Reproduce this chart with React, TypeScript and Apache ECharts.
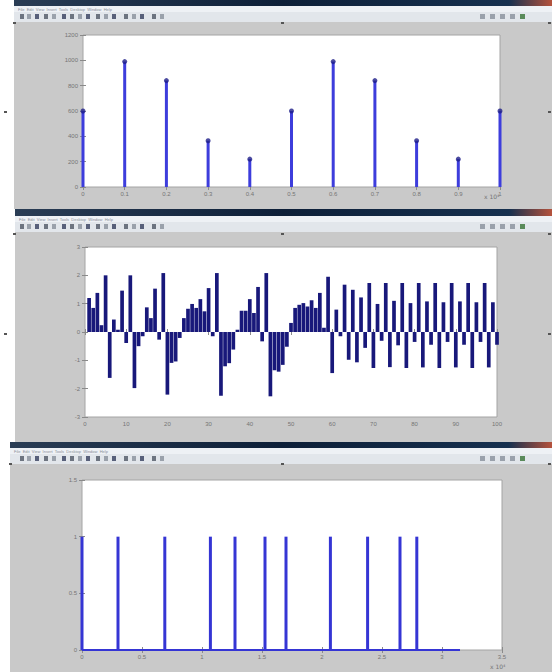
import React, { useEffect, useRef } from "react";
import * as echarts from "echarts";

// ---------- Panel 1 (stem plot) ----------
const p1X = [0, 1, 2, 3, 4, 5, 6, 7, 8, 9, 10];
const p1Values = [600, 990, 840, 365, 220, 600, 990, 840, 365, 220, 600];
const p1XLabels = ["0", "0.1", "0.2", "0.3", "0.4", "0.5", "0.6", "0.7", "0.8", "0.9", "1"];
const p1YLabels = ["0", "200", "400", "600", "800", "1000", "1200"];

// ---------- Panel 2 (bar plot, 100 samples) ----------
const p2Values = [
  1.2, 0.85, 1.38, 0.24, 2.0, -1.62, 0.44, 0.08, 1.46, -0.39,
  2.0, -1.98, -0.5, -0.15, 0.87, 0.49, 1.53, -0.27, 2.08, -2.21,
  -1.09, -1.04, -0.21, 0.49, 0.82, 0.99, 0.85, 1.16, 0.73, 1.55,
  -0.15, 2.08, -2.25, -1.21, -1.1, -0.62, 0.08, 0.75, 0.75, 1.16,
  0.67, 1.59, -0.33, 2.08, -2.27, -1.35, -1.4, -1.16, -0.52, 0.32,
  0.85, 0.96, 1.02, 0.9, 1.12, 0.85, 1.38, 0.15, 1.95, -1.45,
  0.79, -0.15, 1.67, -0.98, 1.49, -1.07, 1.22, -0.56, 1.73, -1.27,
  0.99, -0.31, 1.73, -1.24, 1.1, -0.47, 1.73, -1.27, 1.02, -0.35,
  1.73, -1.25, 1.08, -0.45, 1.73, -1.27, 1.05, -0.35, 1.73, -1.25,
  1.08, -0.45, 1.73, -1.27, 1.05, -0.35, 1.73, -1.25, 1.05, -0.45,
];
const p2XLabels = ["0", "10", "20", "30", "40", "50", "60", "70", "80", "90", "100"];
const p2YLabels = ["-3", "-2", "-1", "0", "1", "2", "3"];

// ---------- Panel 3 (impulse train) ----------
const p3X = [0, 3000, 6900, 10700, 12750, 15250, 17000, 20700, 23800, 26500, 27900];
const p3Values = [1, 1, 1, 1, 1, 1, 1, 1, 1, 1, 1];
const p3End = 31500;
const p3XLabels = ["0", "0.5", "1", "1.5", "2", "2.5", "3", "3.5"];
const p3YLabels = ["0", "0.5", "1", "1.5"];

const FONT = "Liberation Sans";
const LABEL_COLOR = "#757575";
const TICK_COLOR = "#8a8a8a";

function axis(
  kind: "x" | "y",
  gridIndex: number,
  min: number,
  max: number,
  interval: number,
  labels: string[],
  position: string,
  showLabel: boolean
) {
  return {
    type: "value",
    gridIndex,
    position,
    min,
    max,
    interval,
    axisLine: { show: false },
    axisTick: { show: true, inside: true, length: 3, lineStyle: { color: TICK_COLOR, width: 1 } },
    splitLine: { show: false },
    axisLabel: {
      show: showLabel,
      fontSize: 6,
      fontFamily: FONT,
      color: LABEL_COLOR,
      margin: kind === "x" ? 4 : 5,
      formatter: (v: number) => labels[Math.round((v - min) / interval)] ?? "",
    },
  };
}

function windowChrome(x: number, y: number, h: number, titleH: number) {
  const els: any[] = [];
  const w = 552 - x;
  els.push({ type: "rect", shape: { x, y, width: w, height: h }, style: { fill: "#c9c9c9" }, silent: true });
  els.push({
    type: "rect",
    shape: { x, y, width: w, height: titleH },
    style: {
      fill: new echarts.graphic.LinearGradient(0, 0, 1, 0, [
        { offset: 0, color: "#2a3d55" },
        { offset: 0.5, color: "#0d1f38" },
        { offset: 0.92, color: "#16304f" },
        { offset: 1, color: "#b5523c" },
      ]),
    },
    silent: true,
  });
  els.push({ type: "rect", shape: { x, y: y + titleH, width: w, height: 6 }, style: { fill: "#eef1f5" }, silent: true });
  els.push({
    type: "text",
    x: x + 4,
    y: y + titleH + 1,
    style: { text: "File  Edit  View  Insert  Tools  Desktop  Window  Help", fontSize: 4, fill: "#8a8f99", fontFamily: FONT },
    silent: true,
  });
  els.push({ type: "rect", shape: { x, y: y + titleH + 6, width: w, height: 10 }, style: { fill: "#e2e6eb" }, silent: true });
  const iconXs = [20, 27, 35, 44, 52, 62, 70, 78, 86, 96, 104, 112, 124, 132, 140, 152, 160];
  iconXs.forEach((ix, i) => {
    els.push({
      type: "rect",
      shape: { x: ix, y: y + titleH + 8, width: 4, height: 5 },
      style: { fill: i % 3 === 0 ? "#6d7480" : i % 3 === 1 ? "#9aa1ab" : "#58607a" },
      silent: true,
    });
  });
  [480, 490, 500, 510, 520].forEach((ix, i) => {
    els.push({
      type: "rect",
      shape: { x: ix, y: y + titleH + 8, width: 5, height: 5 },
      style: { fill: i === 4 ? "#5a8a5a" : "#9aa1ab" },
      silent: true,
    });
  });
  return els;
}

export default function App() {
  const ref = useRef<HTMLDivElement>(null);
  useEffect(() => {
    if (!ref.current) return;
    const chart = echarts.init(ref.current, null, { renderer: "svg" });

    const gridBoxes = [
      { left: 83, top: 35, width: 417, height: 152 },
      { left: 85, top: 247, width: 412, height: 170 },
      { left: 82, top: 480, width: 420, height: 170 },
    ];
    const grids = gridBoxes.map((g) => ({ ...g, show: false }));

    const xAxes = [
      axis("x", 0, 0, 10, 1, p1XLabels, "bottom", true),
      axis("x", 0, 0, 10, 1, p1XLabels, "top", false),
      axis("x", 1, 0, 100, 10, p2XLabels, "bottom", true),
      axis("x", 1, 0, 100, 10, p2XLabels, "top", false),
      axis("x", 2, 0, 35000, 5000, p3XLabels, "bottom", true),
      axis("x", 2, 0, 35000, 5000, p3XLabels, "top", false),
    ];
    const yAxes = [
      axis("y", 0, 0, 1200, 200, p1YLabels, "left", true),
      axis("y", 0, 0, 1200, 200, p1YLabels, "right", false),
      axis("y", 1, -3, 3, 1, p2YLabels, "left", true),
      axis("y", 1, -3, 3, 1, p2YLabels, "right", false),
      axis("y", 2, 0, 1.5, 0.5, p3YLabels, "left", true),
      axis("y", 2, 0, 1.5, 0.5, p3YLabels, "right", false),
    ];

    const graphics: any[] = [
      ...windowChrome(14, 0, 209, 6),
      ...windowChrome(15, 209, 233, 7),
      ...windowChrome(10, 442, 230, 6),
    ];
    // white plot areas with a thin box
    gridBoxes.forEach((g) => {
      graphics.push({
        type: "rect",
        shape: { x: g.left, y: g.top, width: g.width, height: g.height },
        style: { fill: "#ffffff", stroke: "#a4a4a4", lineWidth: 1 },
        silent: true,
      });
    });
    // resize handles
    [
      [13, 22], [281, 22], [548, 22], [4, 111], [548, 111],
      [13, 233], [281, 233], [548, 233], [4, 333], [548, 333],
      [9, 463], [281, 463], [548, 463],
    ].forEach(([hx, hy]) => {
      graphics.push({ type: "rect", shape: { x: hx, y: hy, width: 3, height: 2 }, style: { fill: "#555" }, silent: true });
    });
    graphics.push({
      type: "text",
      x: 484,
      y: 193,
      style: { text: "x 10⁴", fontSize: 6, fill: LABEL_COLOR, fontFamily: "DejaVu Sans" },
      silent: true,
    });
    graphics.push({
      type: "text",
      x: 490,
      y: 663,
      style: { text: "x 10⁴", fontSize: 6, fill: LABEL_COLOR, fontFamily: "DejaVu Sans" },
      silent: true,
    });
    graphics.forEach((g) => {
      g.z = -10;
    });

    chart.setOption({
      animation: false,
      backgroundColor: "#ffffff",
      grid: grids,
      xAxis: xAxes,
      yAxis: yAxes,
      graphic: { elements: graphics },
      series: [
        {
          type: "bar",
          xAxisIndex: 0,
          yAxisIndex: 0,
          barWidth: 3,
          clip: false,
          itemStyle: { color: "#3d3ddc" },
          data: p1X.map((x, i) => [x, p1Values[i]]),
          z: 3,
        },
        {
          type: "scatter",
          xAxisIndex: 0,
          yAxisIndex: 0,
          symbol: "circle",
          symbolSize: 5,
          clip: false,
          itemStyle: { color: "#1e1e88" },
          data: p1X.map((x, i) => [x, p1Values[i]]),
          z: 4,
        },
        {
          type: "bar",
          xAxisIndex: 2,
          yAxisIndex: 2,
          barWidth: 3.7,
          itemStyle: { color: "#18187a" },
          data: p2Values.map((v, i) => [i + 1, v]),
          z: 3,
        },
        {
          type: "line",
          xAxisIndex: 4,
          yAxisIndex: 4,
          symbol: "none",
          clip: false,
          lineStyle: { color: "#3535d4", width: 2 },
          data: [[0, 0], [p3End, 0]],
          z: 3,
        },
        {
          type: "bar",
          xAxisIndex: 4,
          yAxisIndex: 4,
          barWidth: 3,
          clip: false,
          itemStyle: { color: "#3535d4" },
          data: p3X.map((x, i) => [x, p3Values[i]]),
          z: 4,
        },
      ],
    });
    return () => chart.dispose();
  }, []);
  return (
    <div
      ref={ref}
      style={{ position: "fixed", left: 0, top: 0, width: 552, height: 672, background: "#ffffff" }}
    />
  );
}
